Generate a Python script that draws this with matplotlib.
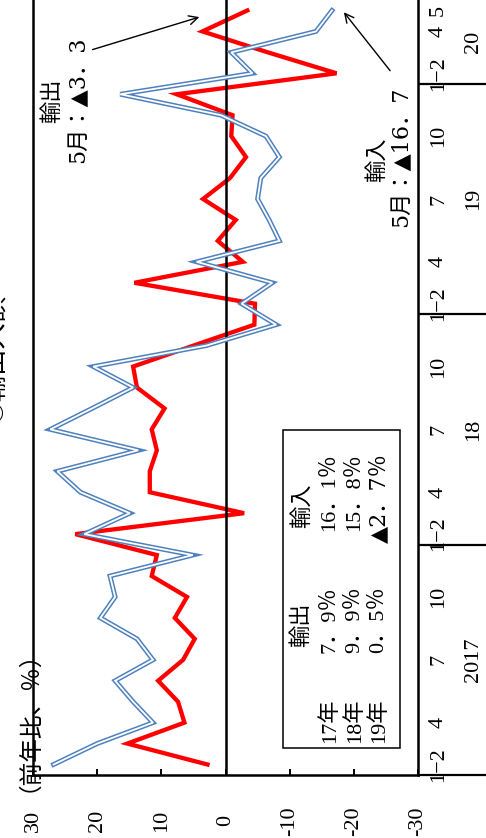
import matplotlib
matplotlib.use("Agg")
import matplotlib.pyplot as plt
from matplotlib.patches import Rectangle
from matplotlib.ticker import FixedLocator

# ---------------- data ----------------
years = ["2017", "18", "19", "20"]
year_lengths = [11, 11, 11, 4]          # Jan-Feb combined, then monthly
slot_labels = (["1−2", "3", "4", "5", "6", "7", "8", "9", "10", "11", "12"] * 3
               + ["1−2", "3", "4", "5"])
shown_labels = {"1−2", "4", "7", "10", "5"}

exports = [2.8, 15.3, 6.4, 7.4, 10.5, 6.6, 4.8, 7.9, 6.0, 11.5, 10.7,
           23.4, -2.9, 11.8, 11.8, 10.7, 11.5, 9.5, 13.8, 14.4, 5.0, -4.5,
           -4.6, 14.2, -2.7, 1.2, -1.6, 3.5, -0.7, -3.2, -0.9, -1.1, 7.6,
           -17.3, -6.6, 3.6, -3.4]
imports = [26.8, 20.0, 11.3, 14.4, 17.2, 11.3, 13.8, 19.5, 17.2, 18.0, 5.1,
           22.0, 14.9, 22.6, 26.2, 13.6, 27.3, 20.8, 14.4, 20.6, 3.0, -7.9,
           -2.5, -7.3, 4.5, -8.4, -6.8, -5.0, -5.5, -8.4, -6.3, 0.7, 16.4,
           -4.2, -0.9, -14.1, -16.6]

value_ticks = [30, 20, 10, 0, -10, -20, -30]
value_tick_labels = ["30", "20", "10", "0", "-10", "-20", "-30"]

table_rows = ["17年", "18年", "19年"]
table_exp = ["7．9％", "9．9％", "0．5％"]
table_imp = ["16．1％", "15．8％", "▲2．7％"]

# ---------------- style ----------------
FAM = ["Liberation Serif", "DejaVu Sans", "Noto Sans CJK JP"]
FAM_TRI = ["DejaVu Serif", "DejaVu Sans", "Noto Sans CJK JP"]
plt.rcParams["font.family"] = FAM
FS = 16
W, H = 486, 838
fig = plt.figure(figsize=(W / 100, H / 100), dpi=100)
ax = fig.add_axes([33 / W, 63 / H, 385 / W, 775 / H])

idx = list(range(len(exports)))
ax.plot(exports, idx, color="#ff0000", lw=3.1, zorder=2, solid_joinstyle="miter")
ax.axvline(0, color="black", lw=1.8, zorder=3)
ax.plot(imports, idx, color="#4f81bd", lw=3.5, zorder=4, solid_joinstyle="miter")
ax.plot(imports, idx, color="white", lw=1.3, zorder=5, solid_joinstyle="miter")

ax.set_xlim(30, -30)
ax.set_ylim(-0.5, len(exports) - 0.5)

for s in ["left", "right", "bottom"]:
    ax.spines[s].set_linewidth(1.8)
ax.spines["top"].set_visible(False)

# value axis (bottom)
ax.set_xticks(value_ticks)
ax.set_xticklabels(value_tick_labels, rotation=90, fontsize=FS)
ax.tick_params(axis="x", direction="in", length=4, width=1.4, pad=33)
for lbl in ax.get_xticklabels():
    lbl.set_va("center")

# time axis (right)
ax.yaxis.tick_right()
major_pos = [i for i, l in enumerate(slot_labels)
             if l in shown_labels and not (l == "5" and i < 33)]
ax.yaxis.set_major_locator(FixedLocator(major_pos))
ax.set_yticklabels([slot_labels[i] for i in major_pos], rotation=90, fontsize=FS)
for lbl in ax.get_yticklabels():
    lbl.set_va("center")
bounds = []
acc = 0
for n in year_lengths[:-1]:
    bounds.append(acc - 0.5)
    acc += n
bounds.append(acc - 0.5)
ax.yaxis.set_minor_locator(FixedLocator(bounds))
ax.tick_params(axis="y", which="major", length=0, pad=8)
ax.tick_params(axis="y", which="minor", direction="out", length=52, width=1.6,
               left=False, right=True)

acc = 0
for y, n in zip(years, year_lengths):
    ax.annotate(y, xy=(1, acc + (n - 1) / 2), xycoords=("axes fraction", "data"),
                xytext=(40, 0), textcoords="offset points", rotation=90,
                ha="center", va="center", fontsize=FS, annotation_clip=False)
    acc += n

# legend table box
ax.add_patch(Rectangle((0.649, 0.035), 0.304, 0.41, transform=ax.transAxes,
                       fill=False, lw=1.1, ec="black", zorder=6))
kw = dict(transform=ax.transAxes, rotation=90, rotation_mode="anchor",
          va="center", fontsize=FS, zorder=7)
ax.text(0.699, 0.165, "輸出", ha="left", **kw)
ax.text(0.699, 0.319, "輸入", ha="left", **kw)
for k, (r, e, m) in enumerate(zip(table_rows, table_exp, table_imp)):
    xr = 0.771 + k * 0.064
    ax.text(xr, 0.041, r, ha="left", **kw)
    ax.text(xr, 0.243, e, ha="right", **kw)
    ax.text(xr, 0.415, m, ha="right", family=FAM_TRI if "▲" in m else FAM, **kw)

# annotations
ax.text(0.052, 0.841, "輸出", ha="left", **kw)
ax.text(0.117, 0.790, "5月：▲3．3", ha="left", family=FAM_TRI, **kw)
ax.text(0.894, 0.765, "輸入", ha="left", **kw)
ax.text(0.958, 0.707, "5月：▲16．7", ha="left", family=FAM_TRI, **kw)
ax.annotate("", xy=(0.439, 0.979), xytext=(0.148, 0.935), xycoords="axes fraction",
            arrowprops=dict(arrowstyle="->", lw=1.0, color="black", mutation_scale=16))
ax.annotate("", xy=(0.803, 0.987), xytext=(0.932, 0.906), xycoords="axes fraction",
            arrowprops=dict(arrowstyle="->", lw=1.0, color="black", mutation_scale=16))

# axis unit label and (cut) title
fig.text(17 / W, (H - 792) / H, "（前年比、％）", rotation=90, rotation_mode="anchor",
         ha="left", va="center", fontsize=17)
fig.text(-5 / W, (H - 423) / H, "②輸出入額", rotation=90, rotation_mode="anchor",
         ha="left", va="center", fontsize=19)

fig.savefig("out.png", dpi=100)
